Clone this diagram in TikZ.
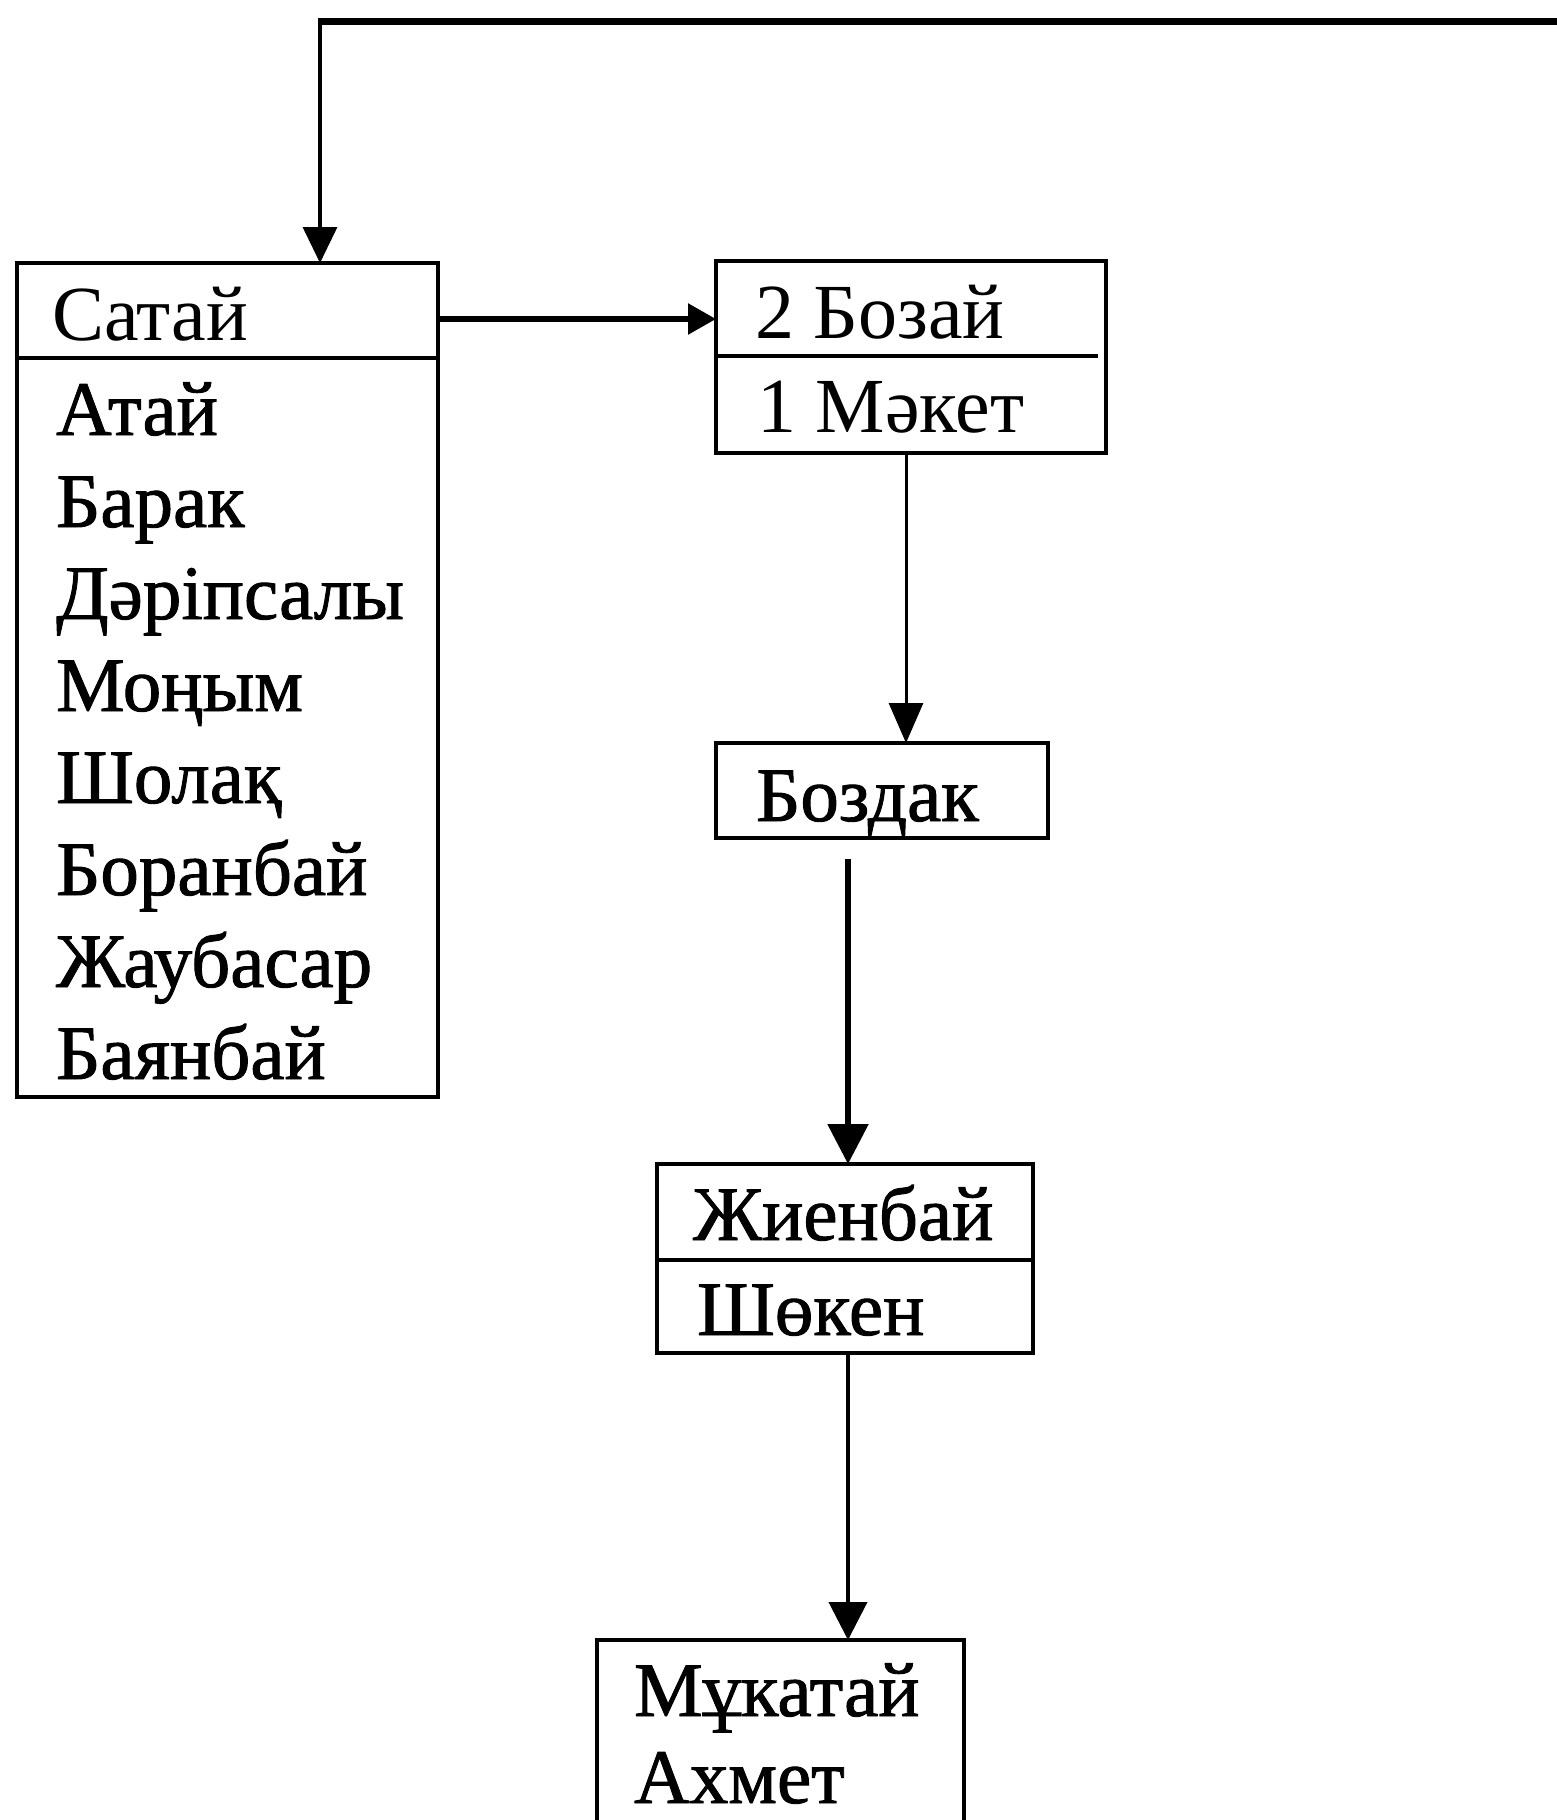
\documentclass[tikz,border=0pt]{standalone}
\usepackage{fontspec}
\setmainfont{Liberation Serif}
\newfontfamily\heavyfont[FakeBold=1.2]{Liberation Serif}
\usetikzlibrary{arrows.meta}
\begin{document}
\begin{tikzpicture}[x=1pt,y=-1pt,
  box/.style={draw, line width=4.5pt, inner sep=0pt, outer sep=0pt, anchor=north west},
  divider/.style={line width=4.5pt},
  lbl/.style={inner sep=0pt, anchor=base west, font=\fontsize{78pt}{90pt}\selectfont},
  hlbl/.style={inner sep=0pt, anchor=base west, font=\heavyfont\fontsize{77pt}{90pt}\selectfont}]
\useasboundingbox[fill=white] (0,0) rectangle (1557,1820);

% boxes
\node[box, minimum width=421pt, minimum height=834pt] (satay) at (17,263) {};
\node[box, minimum width=390pt, minimum height=192pt] (bozai) at (716,261) {};
\node[box, minimum width=332pt, minimum height=95pt] (bozdak) at (716,743) {};
\node[box, minimum width=376pt, minimum height=189pt] (zhien) at (657,1164) {};
\node[box, minimum width=367pt, minimum height=230pt] (mukat) at (597,1640) {};

% dividers
\draw[divider] (satay.west |- 0,358) -- (satay.east |- 0,358);
\draw[divider] (bozai.west |- 0,356) -- ([xshift=-8pt]bozai.east |- 0,356);
\draw[divider] (zhien.west |- 0,1260) -- (zhien.east |- 0,1260);

% texts
\node[lbl] (tsatay) at (52,340) {Сатай};
\node[hlbl] (t1) at (56,435) {Атай};
\node[hlbl] (t2) at (56,527) {Барак};
\node[hlbl] (t3) at (56,619) {Дәріпсалы};
\node[hlbl] (t4) at (56,711) {Моңым};
\node[hlbl] (t5) at (56,803) {Шолақ};
\node[hlbl] (t6) at (56,895) {Боранбай};
\node[hlbl] (t7) at (56,987) {Жаубасар};
\node[hlbl] (t8) at (56,1079) {Баянбай};
\node[lbl] (tbozai) at (755,338) {2 Бозай};
\node[lbl] (tmaket) at (757,432) {1 Мәкет};
\node[hlbl] (tbozdak) at (756,821) {Боздак};
\node[hlbl] (tzhien) at (693,1240) {Жиенбай};
\node[hlbl] (tshoken) at (697,1335) {Шөкен};
\node[hlbl] (tmukat) at (634,1716) {Мұкатай};
\node[hlbl] (tahmet) at (634,1803) {Ахмет};

% connectors
\coordinate (topR) at (1570,21);
\draw[line width=7pt] (topR) -- (320,21) coordinate (topL);
\draw[-{Triangle[length=36pt,width=34pt]}, line width=3.5pt]
  ([yshift=3pt]topL) -- ([xshift=303pt]satay.north west);
\draw[-{Triangle[length=28pt,width=30pt]}, line width=5.5pt]
  ([yshift=-56pt]satay.north east) -- ([yshift=-58pt]bozai.north west);
\draw[-{Triangle[length=40pt,width=34pt]}, line width=3pt]
  ([xshift=190pt]bozai.south west) -- ([xshift=190pt]bozdak.north west);
\coordinate (bzStart) at ([xshift=132pt,yshift=-21pt]bozdak.south west);
\draw[-{Triangle[length=40pt,width=40pt]}, line width=5.5pt]
  (bzStart) -- (bzStart |- zhien.north);
\draw[-{Triangle[length=38pt,width=38pt]}, line width=4pt]
  ([xshift=191pt]zhien.south west) -- ([xshift=251pt]mukat.north west);
\end{tikzpicture}
\end{document}
